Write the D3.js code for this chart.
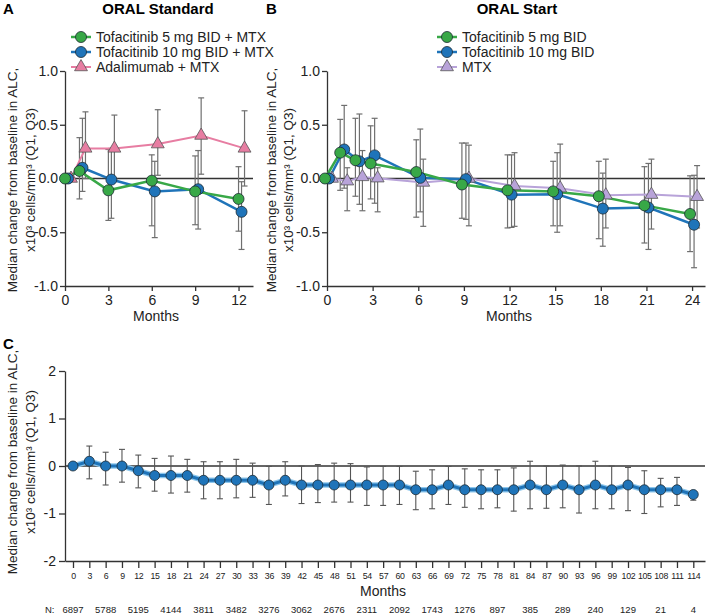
<!DOCTYPE html>
<html>
<head>
<meta charset="utf-8">
<script src="https://cdn.jsdelivr.net/npm/d3@7"></script>
<style>
  body { margin: 0; background: #fff; }
  svg { display: block; font-family: "Liberation Sans", Arial, Helvetica, sans-serif; }
</style>
</head>
<body>
<svg id="chart" width="709" height="616"></svg>
<script>
// ---- Panel A: ORAL Standard ----
const visitsA = [0, 1, 3, 6, 9, 12];
const tofa5A = [0, 0.07, -0.11, -0.02, -0.12, -0.19];
const tofa5A_q1 = [0, -0.19, -0.39, -0.44, -0.43, -0.49];
const tofa5A_q3 = [0, 0.38, 0.27, 0.22, 0.21, 0.11];
const tofa10A = [0, 0.10, -0.01, -0.12, -0.10, -0.31];
const tofa10A_q1 = [0, -0.12, -0.37, -0.55, -0.47, -0.66];
const tofa10A_q3 = [0, 0.56, 0.28, 0.16, 0.26, -0.03];
const adaA = [0, 0.28, 0.28, 0.32, 0.40, 0.28];
const adaA_q1 = [0, 0.0, 0.0, 0.03, 0.04, -0.07];
const adaA_q3 = [0, 0.62, 0.59, 0.64, 0.75, 0.63];

// ---- Panel B: ORAL Start ----
const visitsB = [0, 1, 2, 3, 6, 9, 12, 15, 18, 21, 24];
const tofa5B = [0, 0.24, 0.17, 0.14, 0.06, -0.056, -0.11, -0.12, -0.165, -0.25, -0.33];
const tofa5B_q1 = [0, -0.11, -0.165, -0.19, -0.36, -0.37, -0.46, -0.44, -0.56, -0.60, -0.68];
const tofa5B_q3 = [0, 0.55, 0.56, 0.49, 0.36, 0.33, 0.22, 0.16, 0.16, 0.11, 0.025];
const tofa10B = [0, 0.27, 0.16, 0.215, 0.006, -0.006, -0.15, -0.146, -0.28, -0.27, -0.43];
const tofa10B_q1 = [0, -0.09, -0.24, -0.23, -0.31, -0.38, -0.455, -0.50, -0.63, -0.66, -0.83];
const tofa10B_q3 = [0, 0.68, 0.60, 0.56, 0.46, 0.33, 0.22, 0.24, 0.05, 0.14, 0.03];
const mtxB = [0, -0.025, 0.015, 0.003, -0.037, 0, -0.07, -0.09, -0.155, -0.15, -0.17];
const mtxB_q1 = [0, -0.30, -0.30, -0.31, -0.445, -0.44, -0.445, -0.44, -0.46, -0.47, -0.46];
const mtxB_q3 = [0, 0.10, 0.26, 0.10, 0.18, 0.31, 0.24, 0.32, 0.18, 0.18, 0.12];

// ---- Panel C: all patients, long-term ----
const monthsC = [0, 3, 6, 9, 12, 15, 18, 21, 24, 27, 30, 33, 36, 39, 42, 45, 48, 51, 54, 57,
  60, 63, 66, 69, 72, 75, 78, 81, 84, 87, 90, 93, 96, 99, 102, 105, 108, 111, 114];
const medianC = [0, 0.1, 0, 0, -0.1, -0.2, -0.2, -0.2, -0.3, -0.3,
  -0.3, -0.3, -0.4, -0.3, -0.4, -0.4, -0.4, -0.4, -0.4, -0.4,
  -0.4, -0.5, -0.5, -0.4, -0.5, -0.5, -0.5, -0.5, -0.4, -0.5,
  -0.4, -0.5, -0.4, -0.5, -0.4, -0.5, -0.5, -0.5, -0.6];
const q1C = [0, -0.27, -0.40, -0.34, -0.46, -0.53, -0.57, -0.55, -0.69, -0.69,
  -0.67, -0.66, -0.81, -0.63, -0.79, -0.77, -0.76, -0.76, -0.83, -0.83,
  -0.81, -0.92, -0.90, -0.81, -0.87, -0.90, -0.88, -0.95, -0.90, -0.89,
  -0.88, -0.99, -0.90, -0.90, -0.94, -1.0, -0.86, -0.83, -0.72];
const q3C = [0, 0.42, 0.29, 0.35, 0.23, 0.16, 0.21, 0.14, 0.09, 0.09,
  0.14, 0.06, -0.01, 0.09, 0.0, 0.03, 0.06, 0.05, -0.02, -0.01,
  -0.01, -0.11, -0.08, -0.01, -0.06, -0.08, -0.08, -0.04, 0.10, 0.0,
  0.02, 0.0, 0.10, 0.0, -0.03, -0.10, -0.26, -0.24, -0.55];
const nMonthsC = [0, 6, 12, 18, 24, 30, 36, 42, 48, 54, 60, 66, 72, 78, 84, 90, 96, 102, 108, 114];
const nPatientsC = [6897, 5788, 5195, 4144, 3811, 3482, 3276, 3062, 2676, 2311,
  2092, 1743, 1276, 897, 385, 289, 240, 129, 21, 4];

const yLabel1 = 'Median change from baseline in ALC,';
const yLabel2 = 'x10³ cells/mm³ (Q1, Q3)';

const green = '#38a847', blue = '#1f74b9', pink = '#e77da2', purple = '#b8a3d9';
const barColor = '#6f6f6f', axisColor = '#333';

const svg = d3.select('#chart');

const zip = (months, med, q1, q3) => months.map((m, i) => ({ m, v: med[i], q1: q1[i], q3: q3[i] }));

const styleAxis = (g, size) => {
    g.attr('font-family', null);
    g.selectAll('text').attr('font-size', size).attr('fill', '#222');
    g.selectAll('path, line').attr('stroke', axisColor).attr('stroke-width', 1.3);
};

const drawMarker = (g, s, cx, cy) => {
    if (s.symbol === 'triangle') {
        g.append('path')
            .attr('d', d3.symbol().type(d3.symbolTriangle).size(72)())
            .attr('transform', `translate(${cx},${cy})`)
            .attr('fill', s.fill)
            .attr('stroke', '#555')
            .attr('stroke-width', 0.8);
    } else {
        g.append('circle')
            .attr('cx', cx).attr('cy', cy).attr('r', 5.5)
            .attr('fill', s.fill)
            .attr('stroke', '#1d2b33')
            .attr('stroke-width', 0.8);
    }
};

const drawYLabel = (cx1, cx2, cy) => {
    [[cx1, yLabel1], [cx2, yLabel2]].forEach(([x, t]) => {
        svg.append('text')
            .attr('transform', `translate(${x},${cy}) rotate(-90)`)
            .attr('text-anchor', 'middle')
            .attr('font-size', 13.5)
            .attr('fill', '#222')
            .text(t);
    });
};

// Panels A and B share the same layout
const drawTrialPanel = (cfg) => {
    const x = d3.scaleLinear().domain(cfg.xDomain).range(cfg.xRange);
    const y = d3.scaleLinear().domain([-1, 1]).range([286, 71]);
    const g = svg.append('g');

    g.append('g')
        .attr('transform', `translate(0,${y(-1)})`)
        .call(d3.axisBottom(x).tickValues(cfg.ticks).tickSize(5).tickSizeOuter(0).tickPadding(4))
        .call(a => styleAxis(a, 14));

    g.append('g')
        .attr('transform', `translate(${cfg.xRange[0]},0)`)
        .call(d3.axisLeft(y).tickValues([-1, -0.5, 0, 0.5, 1]).tickFormat(d => d.toFixed(1))
            .tickSize(5).tickSizeOuter(0).tickPadding(2))
        .call(a => styleAxis(a, 14));

    // zero reference line
    g.append('line')
        .attr('x1', cfg.xRange[0]).attr('x2', cfg.xRange[1])
        .attr('y1', y(0)).attr('y2', y(0))
        .attr('stroke', axisColor).attr('stroke-width', 1.4);

    cfg.series.forEach(s => {
        const pts = s.data.filter(d => d.q1 !== d.q3);
        const bars = g.append('g').attr('stroke', barColor).attr('stroke-width', 1.2);
        pts.forEach(d => {
            const px = x(d.m) + s.dodge;
            bars.append('line').attr('x1', px).attr('x2', px).attr('y1', y(d.q1)).attr('y2', y(d.q3));
            bars.append('line').attr('x1', px - 3).attr('x2', px + 3).attr('y1', y(d.q1)).attr('y2', y(d.q1));
            bars.append('line').attr('x1', px - 3).attr('x2', px + 3).attr('y1', y(d.q3)).attr('y2', y(d.q3));
        });
    });

    cfg.series.forEach(s => {
        g.append('path')
            .datum(s.data)
            .attr('fill', 'none')
            .attr('stroke', s.color)
            .attr('stroke-width', s.width)
            .attr('d', d3.line().x(d => x(d.m) + s.dodge).y(d => y(d.v)));
    });

    cfg.series.forEach(s => {
        s.data.forEach(d => drawMarker(g, s, x(d.m) + s.dodge, y(d.v)));
    });

    // legend
    cfg.legend.forEach((s, i) => {
        const ly = 37 + i * 15;
        g.append('line')
            .attr('x1', cfg.legendX).attr('x2', cfg.legendX + 20)
            .attr('y1', ly).attr('y2', ly)
            .attr('stroke', s.color).attr('stroke-width', s.width);
        drawMarker(g, s, cfg.legendX + 10, ly);
        g.append('text')
            .attr('x', cfg.legendX + 25).attr('y', ly + 5)
            .attr('font-size', 14)
            .attr('fill', '#222')
            .text(s.name);
    });

    svg.append('text').attr('x', cfg.letterX).attr('y', 14)
        .attr('font-size', 15).attr('font-weight', 'bold').text(cfg.letter);
    svg.append('text').attr('x', cfg.titleX).attr('y', 14)
        .attr('text-anchor', 'middle').attr('font-size', 15).attr('font-weight', 'bold').text(cfg.title);
    svg.append('text').attr('x', cfg.monthsX).attr('y', 321)
        .attr('text-anchor', 'middle').attr('font-size', 14).attr('fill', '#222').text('Months');
};

const s5A = { name: 'Tofacitinib 5 mg BID + MTX', data: zip(visitsA, tofa5A, tofa5A_q1, tofa5A_q3),
    color: green, fill: green, symbol: 'circle', dodge: 0, width: 2.5 };
const s10A = { name: 'Tofacitinib 10 mg BID + MTX', data: zip(visitsA, tofa10A, tofa10A_q1, tofa10A_q3),
    color: blue, fill: blue, symbol: 'circle', dodge: 3, width: 2.5 };
const sAdaA = { name: 'Adalimumab + MTX', data: zip(visitsA, adaA, adaA_q1, adaA_q3),
    color: pink, fill: pink, symbol: 'triangle', dodge: 6, width: 2 };

drawTrialPanel({
    letter: 'A', letterX: 3, title: 'ORAL Standard', titleX: 158, monthsX: 156,
    xDomain: [0, 13], xRange: [65, 253], ticks: [0, 3, 6, 9, 12],
    series: [sAdaA, s10A, s5A], legend: [s5A, s10A, sAdaA], legendX: 71
});

const s5B = { name: 'Tofacitinib 5 mg BID', data: zip(visitsB, tofa5B, tofa5B_q1, tofa5B_q3),
    color: green, fill: green, symbol: 'circle', dodge: -2, width: 2.5 };
const s10B = { name: 'Tofacitinib 10 mg BID', data: zip(visitsB, tofa10B, tofa10B_q1, tofa10B_q3),
    color: blue, fill: blue, symbol: 'circle', dodge: 2, width: 2.5 };
const sMtxB = { name: 'MTX', data: zip(visitsB, mtxB, mtxB_q1, mtxB_q3),
    color: purple, fill: purple, symbol: 'triangle', dodge: 5, width: 2 };

drawTrialPanel({
    letter: 'B', letterX: 266, title: 'ORAL Start', titleX: 517, monthsX: 509,
    xDomain: [0, 24.85], xRange: [327, 705], ticks: [0, 3, 6, 9, 12, 15, 18, 21, 24],
    series: [sMtxB, s10B, s5B], legend: [s5B, s10B, sMtxB], legendX: 437
});

drawYLabel(17, 35, 180);
drawYLabel(276, 293, 180);

// ---- Panel C ----
const xC = d3.scaleLinear().domain([-1.47, 116.15]).range([65, 705]);
const yC = d3.scaleLinear().domain([-2, 2]).range([561, 371]);
const gC = svg.append('g');

gC.append('g')
    .attr('transform', `translate(0,${yC(-2)})`)
    .call(d3.axisBottom(xC).tickValues(monthsC).tickSize(7).tickSizeOuter(0).tickPadding(5))
    .call(a => styleAxis(a, 8.8))
    .call(a => a.selectAll('text').attr('letter-spacing', -0.3));

gC.append('g')
    .attr('transform', `translate(65,0)`)
    .call(d3.axisLeft(yC).tickValues([-2, -1, 0, 1, 2]).tickFormat(d => String(d))
        .tickSize(6).tickSizeOuter(0).tickPadding(3))
    .call(a => styleAxis(a, 14));

gC.append('line')
    .attr('x1', 65).attr('x2', 705)
    .attr('y1', yC(0)).attr('y2', yC(0))
    .attr('stroke', axisColor).attr('stroke-width', 1.4);

const dataC = zip(monthsC, medianC, q1C, q3C);
const barsC = gC.append('g').attr('stroke', '#555').attr('stroke-width', 1.1);
dataC.filter(d => d.q1 !== d.q3).forEach(d => {
    const px = xC(d.m);
    barsC.append('line').attr('x1', px).attr('x2', px).attr('y1', yC(d.q1)).attr('y2', yC(d.q3));
    barsC.append('line').attr('x1', px - 3).attr('x2', px + 3).attr('y1', yC(d.q1)).attr('y2', yC(d.q1));
    barsC.append('line').attr('x1', px - 3).attr('x2', px + 3).attr('y1', yC(d.q3)).attr('y2', yC(d.q3));
});

const lineC = d3.line().x(d => xC(d.m)).y(d => yC(d.v));
gC.append('path').datum(dataC).attr('fill', 'none').attr('stroke', '#8cc6ec').attr('stroke-width', 5.5).attr('d', lineC);
gC.append('path').datum(dataC).attr('fill', 'none').attr('stroke', blue).attr('stroke-width', 3).attr('d', lineC);

gC.selectAll('.pt')
    .data(dataC)
    .enter()
    .append('circle')
    .attr('class', 'pt')
    .attr('cx', d => xC(d.m))
    .attr('cy', d => yC(d.v))
    .attr('r', 5)
    .attr('fill', blue)
    .attr('stroke', '#1d2b33')
    .attr('stroke-width', 0.8);

svg.append('text').attr('x', 3).attr('y', 349)
    .attr('font-size', 15).attr('font-weight', 'bold').text('C');
svg.append('text').attr('x', 383).attr('y', 596)
    .attr('text-anchor', 'middle').attr('font-size', 14).attr('fill', '#222').text('Months');

// N at risk row
svg.append('text').attr('x', 45).attr('y', 613).attr('font-size', 9.5).attr('fill', '#222').text('N:');
svg.selectAll('.nlab')
    .data(nMonthsC)
    .enter()
    .append('text')
    .attr('class', 'nlab')
    .attr('x', d => xC(d))
    .attr('y', 613)
    .attr('text-anchor', 'middle')
    .attr('font-size', 9.5)
    .attr('fill', '#222')
    .text((d, i) => nPatientsC[i]);

drawYLabel(17, 35, 462);
</script>
</body>
</html>
